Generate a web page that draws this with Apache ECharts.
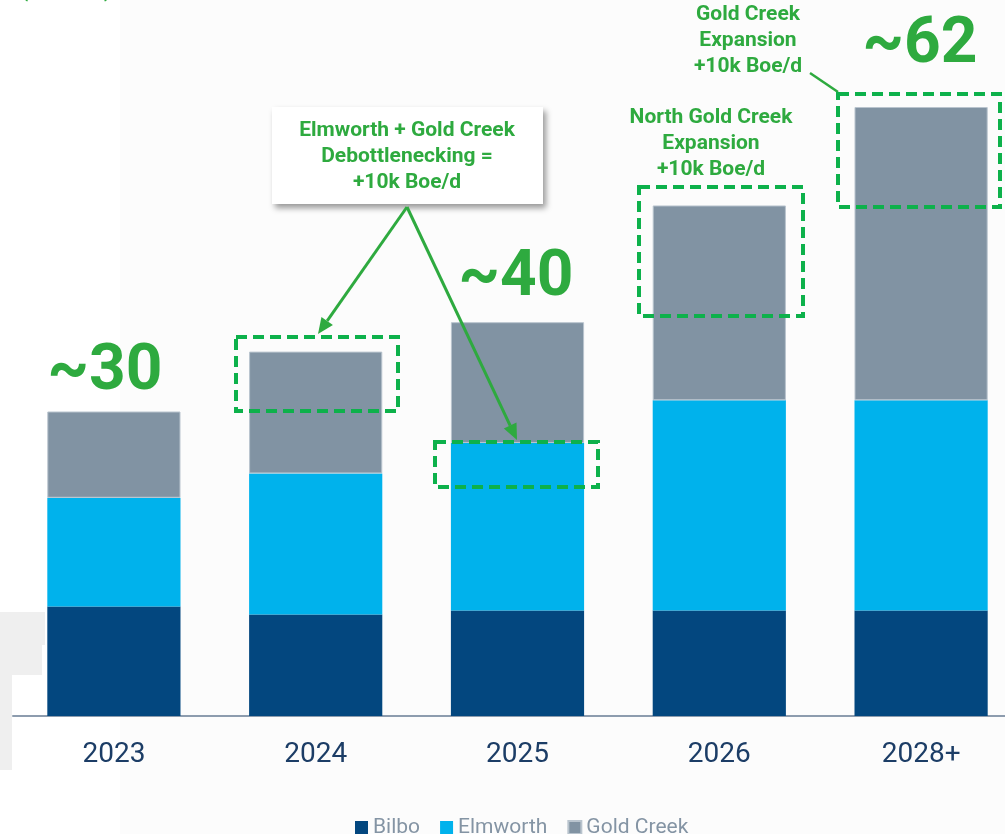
<!DOCTYPE html>
<html>
<head>
<meta charset="utf-8">
<script src="https://cdn.jsdelivr.net/npm/echarts@6/dist/echarts.min.js"></script>
<style>
  html, body { margin: 0; padding: 0; background: #fff; }
  #chart { width: 1005px; height: 834px; }
</style>
</head>
<body>
<div id="chart"></div>
<script>
// production, kboe/d
var years = ['2023', '2024', '2025', '2026', '2028+'];
var bilbo = [10.8, 10.0, 10.4, 10.4, 10.4];
var elmworth = [10.7, 13.9, 16.5, 20.7, 20.7];
var goldCreek = [8.5, 12.0, 11.9, 19.2, 28.9];

var GREEN = '#2eaa3f';
var DASH = '#0db14b';

var chart = echarts.init(document.getElementById('chart'));

function dashedBox(x, y, w, h) {
    return {
        type: 'rect', z: 20,
        shape: {x: x, y: y, width: w, height: h},
        style: {fill: 'none', stroke: DASH, lineWidth: 4, lineDash: [11, 6]}
    };
}

function note(x, y, text, size) {
    return {
        type: 'text', z: 20, x: x, y: y,
        style: {
            text: text, fill: GREEN, align: 'center', verticalAlign: 'middle',
            font: 'bold ' + size + 'px Roboto', lineHeight: 26
        }
    };
}

function arrow(x1, y1, x2, y2) {
    var ang = Math.atan2(y2 - y1, x2 - x1);
    var len = 16, half = 7;
    var bx = x2 - len * Math.cos(ang), by = y2 - len * Math.sin(ang);
    var px = -Math.sin(ang) * half, py = Math.cos(ang) * half;
    return [
        {type: 'line', z: 21, shape: {x1: x1, y1: y1, x2: bx, y2: by},
         style: {stroke: GREEN, lineWidth: 3}},
        {type: 'polygon', z: 21,
         shape: {points: [[x2, y2], [bx + px, by + py], [bx - px, by - py]]},
         style: {fill: GREEN}}
    ];
}

var option = {
    backgroundColor: '#ffffff',
    animation: false,
    grid: {left: 13, width: 1009, top: 5.5, height: 710.5, outerBoundsMode: 'none', containLabel: false},
    legend: {
        data: ['Bilbo', 'Elmworth', 'Gold Creek'],
        left: 350, top: 812,
        icon: 'rect', itemWidth: 13, itemHeight: 13, itemGap: 20,
        textStyle: {fontFamily: 'Roboto', fontSize: 21, color: '#8494a4'}
    },
    xAxis: {
        type: 'category',
        data: years,
        axisLine: {lineStyle: {color: '#8d9cae', width: 2}},
        axisTick: {show: false},
        axisLabel: {fontFamily: 'Roboto', fontSize: 28, color: '#1c3d66', margin: 25}
    },
    yAxis: {
        type: 'value', min: 0, max: 70, show: false,
        splitLine: {show: false}
    },
    series: [
        {name: 'Bilbo', type: 'bar', stack: 'p', data: bilbo, barCategoryGap: '34%',
         itemStyle: {color: '#03477f'}},
        {name: 'Elmworth', type: 'bar', stack: 'p', data: elmworth,
         itemStyle: {color: '#00b2ec'}},
        {name: 'Gold Creek', type: 'bar', stack: 'p', data: goldCreek,
         itemStyle: {color: '#8193a3', borderColor: '#b9c4ce', borderWidth: 1}}
    ],
    graphic: [
        // page background pieces
        {type: 'rect', z: -10, shape: {x: 120, y: 0, width: 885, height: 834}, style: {fill: '#fcfcfc'}},
        {type: 'rect', z: -9, shape: {x: 0, y: 612, width: 45, height: 33}, style: {fill: '#efefef'}},
        {type: 'rect', z: -9, shape: {x: 0, y: 645, width: 42, height: 30}, style: {fill: '#efefef'}},
        {type: 'rect', z: -9, shape: {x: 0, y: 675, width: 12, height: 95}, style: {fill: '#efefef'}},
        {type: 'text', z: 20, x: 20, y: -22, style: {text: '(kboe/d)', fill: GREEN, font: 'bold 24px Roboto'}},

        // totals
        note(105, 373, '~30', 64),
        note(516, 279, '~40', 64),
        note(920, 46, '~62', 64),

        // callout box
        {type: 'rect', z: 19, shape: {x: 272, y: 107, width: 271, height: 97},
         style: {fill: '#ffffff', shadowColor: 'rgba(0,0,0,0.4)', shadowBlur: 6, shadowOffsetX: 3, shadowOffsetY: 4}},
        note(407, 157, 'Elmworth + Gold Creek\nDebottlenecking =\n+10k Boe/d', 21),

        note(711, 144, 'North Gold Creek\nExpansion\n+10k Boe/d', 21),
        note(748, 41, 'Gold Creek\nExpansion\n+10k Boe/d', 21),
        {type: 'line', z: 20, shape: {x1: 810, y1: 73, x2: 838, y2: 92}, style: {stroke: GREEN, lineWidth: 2.5}},

        dashedBox(236, 337, 162, 74),
        dashedBox(435, 442, 163, 45),
        dashedBox(639, 187, 164, 129),
        dashedBox(838, 94, 162, 113)
    ].concat(arrow(407, 207, 318, 334)).concat(arrow(407, 207, 517, 440))
};

chart.setOption(option);
</script>
</body>
</html>
